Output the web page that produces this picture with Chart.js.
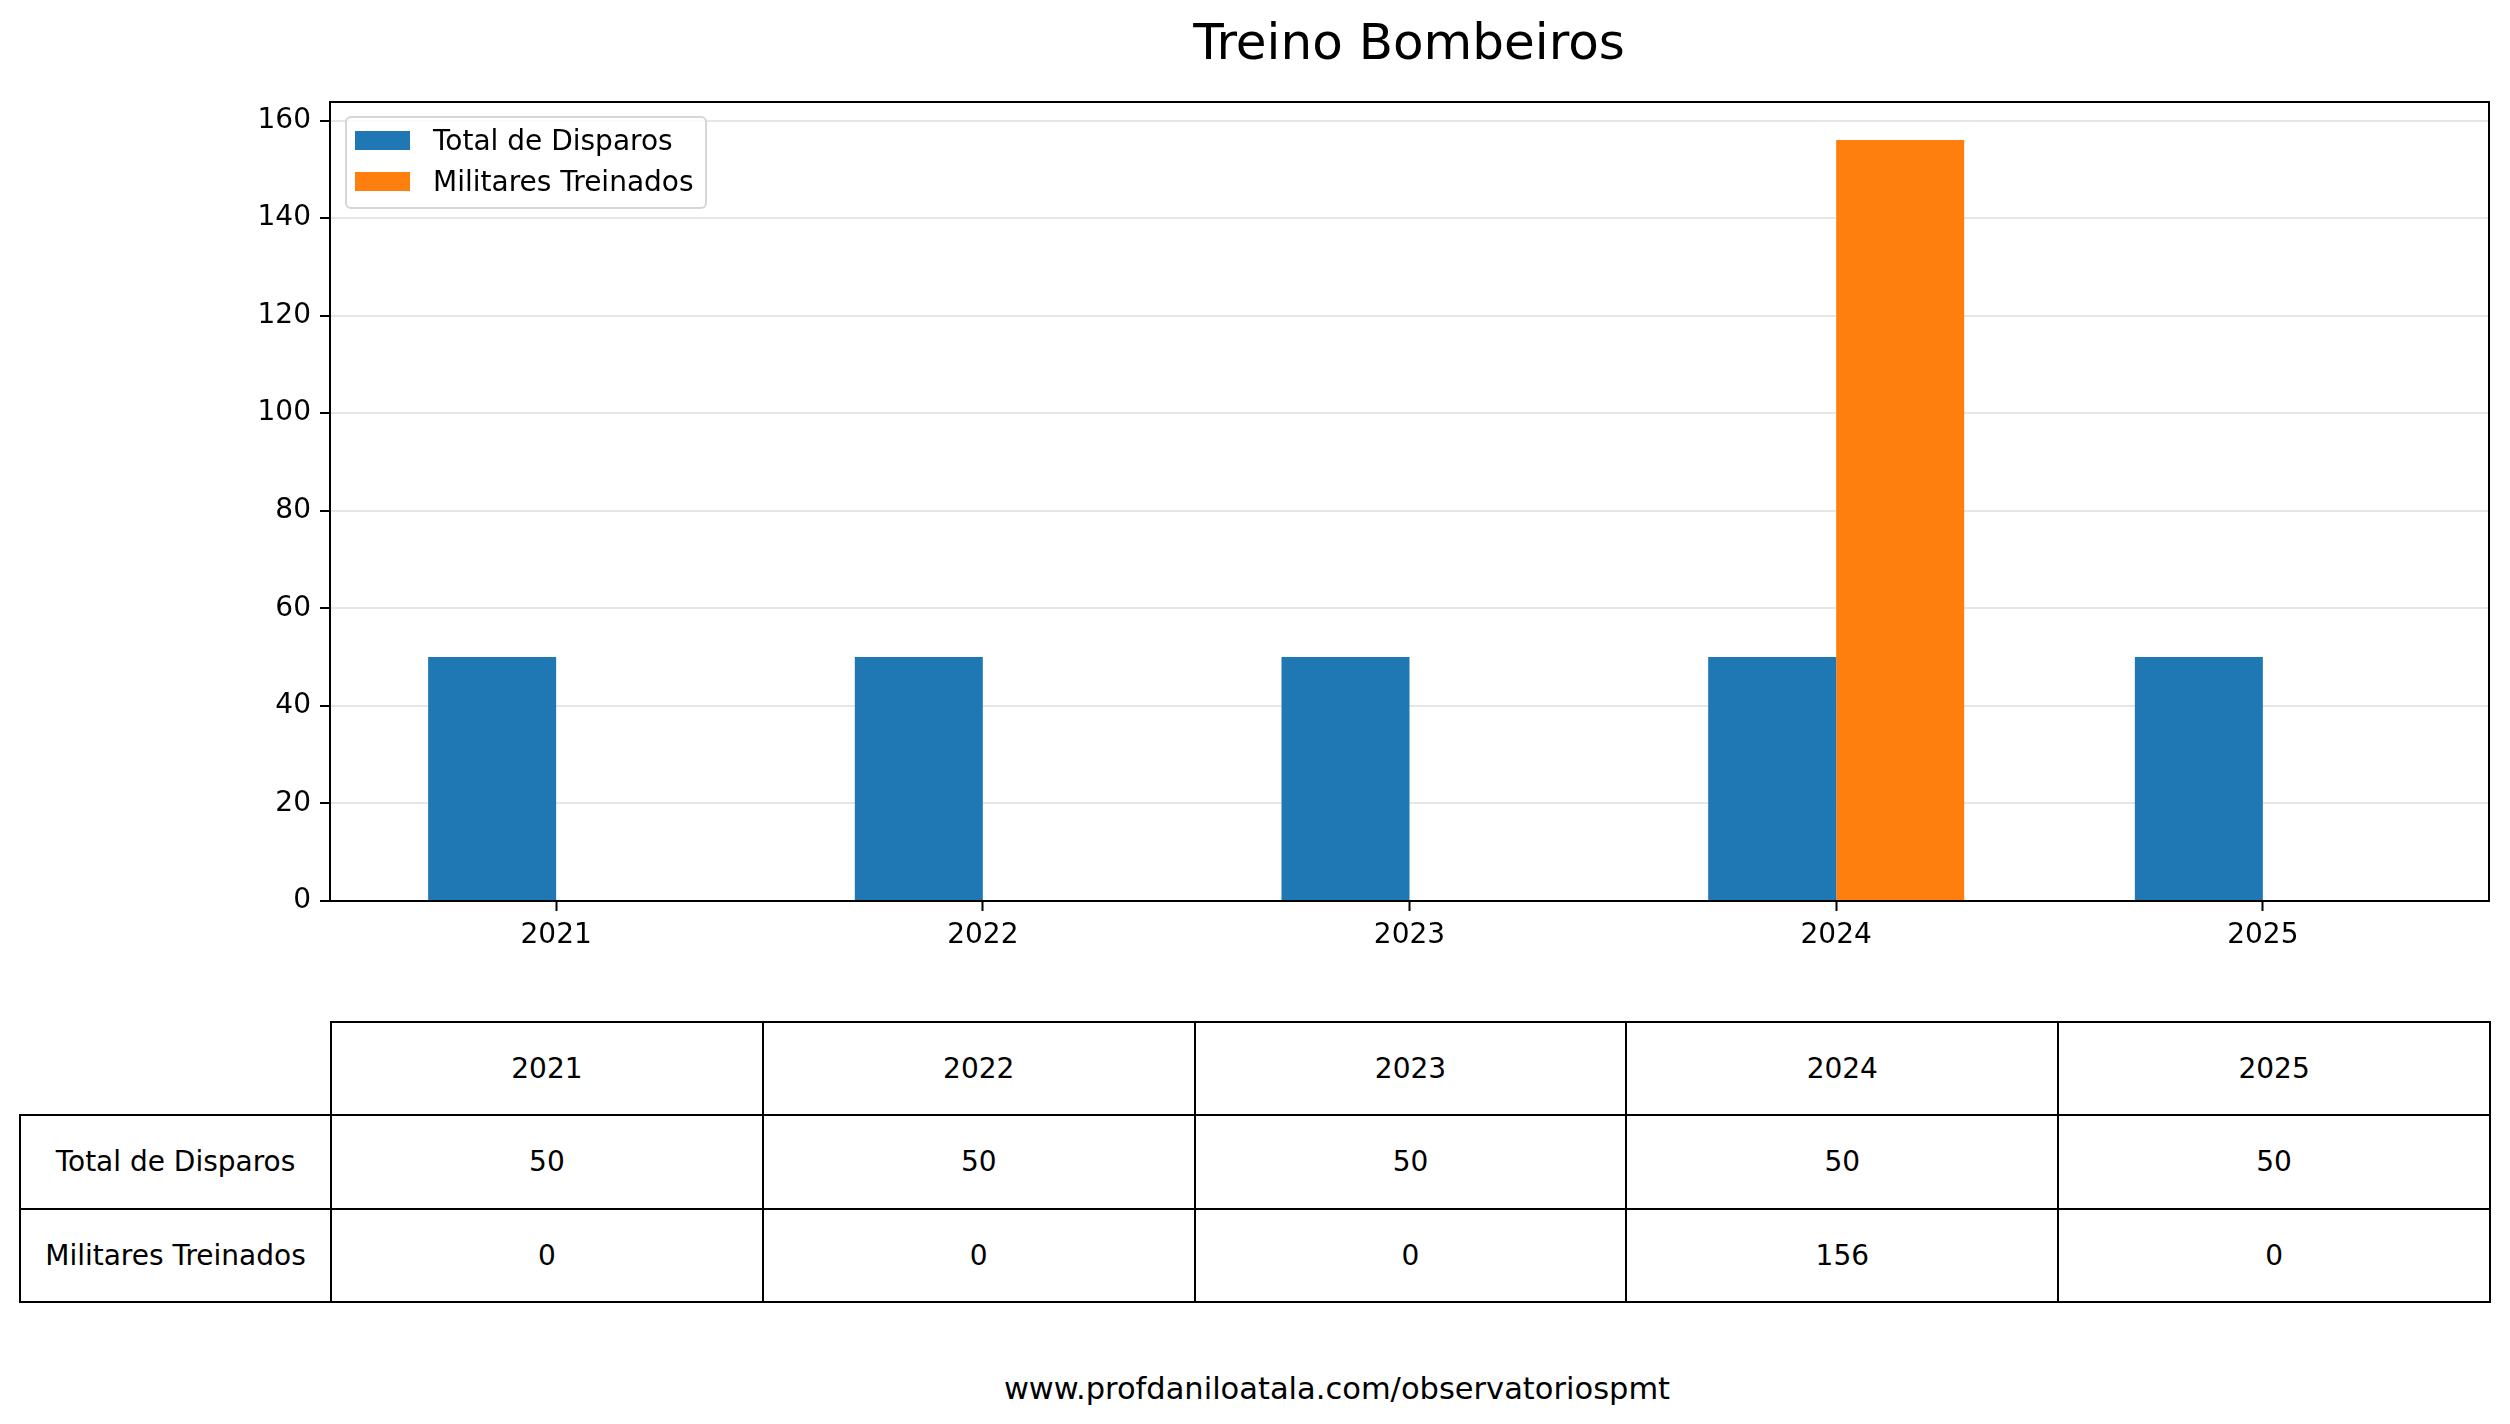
<!DOCTYPE html>
<html lang="pt">
<head>
    <meta charset="UTF-8">
    <title>Treino Bombeiros</title>
    <script src="https://cdn.jsdelivr.net/npm/chart.js"></script>
</head>
<style>
    body{
        margin: 0;
        width: 2510px;
        height: 1424px;
        overflow: hidden;
        background: #fff;
        font-family: "DejaVu Sans", sans-serif;
        color: #000;
    }
    .title{
        position: absolute;
        left: 1409px;
        top: 42px;
        transform: translate(-50%, -50%);
        font-size: 50px;
        white-space: nowrap;
    }
    .chartBox{
        position: absolute;
        left: 0;
        top: 0;
        width: 2510px;
        height: 960px;
    }
    .legend{
        position: absolute;
        left: 345px;
        top: 116px;
        padding: 4px 11px 8px 8px;
        border: 2px solid rgba(204,204,204,0.8);
        border-radius: 6px;
        background: rgba(255,255,255,0.8);
        font-size: 28px;
    }
    .legend .item{
        display: flex;
        align-items: center;
        height: 36px;
        margin-bottom: 5px;
    }
    .legend .item:last-child{ margin-bottom: 0; }
    .legend .swatch{
        width: 55px;
        height: 19px;
        margin-right: 23px;
    }
    table{
        position: absolute;
        left: 19px;
        top: 1021px;
        width: 2470px;
        border-collapse: collapse;
        table-layout: fixed;
        font-size: 28px;
    }
    td{
        border: 2px solid #000;
        height: 93.3px;
        padding: 0;
        text-align: center;
        box-sizing: border-box;
    }
    td.blank{
        border-top: none;
        border-left: none;
    }
    .footer{
        position: absolute;
        left: 1337px;
        top: 1388px;
        transform: translate(-50%, -50%);
        font-size: 30.5px;
        white-space: nowrap;
    }
</style>
<body>
<div class="title">Treino Bombeiros</div>
<div class="chartBox">
    <canvas id="bombeiros"></canvas>
</div>
<div class="legend" id="legend"></div>
<table id="dataTable"></table>
<div class="footer">www.profdaniloatala.com/observatoriospmt</div>
<script>
    const anos = ['2021', '2022', '2023', '2024', '2025'];
    const totalDisparos = [50, 50, 50, 50, 50];
    const militaresTreinados = [0, 0, 0, 156, 0];
    const seriesNomes = ['Total de Disparos', 'Militares Treinados'];
    const yTicks = [0, 20, 40, 60, 80, 100, 120, 140, 160];

    const cores = ['#1f77b4', '#ff7f0e'];

    // box around the plot area, like matplotlib spines
    const moldura = {
        id: 'moldura',
        afterDraw(c) {
            const a = c.chartArea;
            const ctx = c.ctx;
            ctx.save();
            ctx.strokeStyle = '#000';
            ctx.lineWidth = 2;
            ctx.strokeRect(a.left, a.top, a.right - a.left, a.bottom - a.top);
            ctx.restore();
        }
    };

    const chart = new Chart(document.getElementById('bombeiros'), {
        type: 'bar',
        data: {
            datasets: [
                {
                    label: seriesNomes[0],
                    data: totalDisparos.map((v, i) => ({x: i, y: v})),
                    backgroundColor: cores[0]
                },
                {
                    label: seriesNomes[1],
                    data: militaresTreinados.map((v, i) => ({x: i, y: v})),
                    backgroundColor: cores[1]
                }
            ]
        },
        options: {
            responsive: true,
            maintainAspectRatio: false,
            animation: false,
            devicePixelRatio: 1,
            categoryPercentage: 0.6,
            barPercentage: 1.0,
            layout: {padding: {left: 0, right: 21, top: 102, bottom: 0}},
            plugins: {
                legend: {display: false},
                title: {display: false},
                tooltip: {enabled: false}
            },
            scales: {
                x: {
                    type: 'linear',
                    offset: false,
                    min: -0.53,
                    max: 4.53,
                    afterBuildTicks: s => { s.ticks = anos.map((_, i) => ({value: i})); },
                    afterFit: s => { s.height = 59; },
                    ticks: {
                        callback: v => anos[v],
                        color: '#000',
                        font: {family: 'DejaVu Sans', size: 28},
                        padding: 8,
                        maxRotation: 0,
                        autoSkip: false
                    },
                    grid: {
                        offset: false,
                        drawOnChartArea: false,
                        tickLength: 10,
                        tickColor: '#000',
                        tickWidth: 2
                    },
                    border: {display: false}
                },
                y: {
                    min: 0,
                    max: 163.8,
                    afterBuildTicks: s => { s.ticks = yTicks.map(v => ({value: v})); },
                    afterFit: s => { s.width = 330; },
                    ticks: {
                        color: '#000',
                        font: {family: 'DejaVu Sans', size: 28},
                        padding: 9
                    },
                    grid: {
                        color: '#e6e6e6',
                        lineWidth: 2,
                        tickLength: 10,
                        tickColor: '#000',
                        tickWidth: 2
                    },
                    border: {display: false}
                }
            }
        },
        plugins: [moldura]
    });

    // legend in the upper left corner of the plot
    const legend = document.getElementById('legend');
    chart.data.datasets.forEach(ds => {
        const item = document.createElement('div');
        item.className = 'item';
        const sw = document.createElement('span');
        sw.className = 'swatch';
        sw.style.background = ds.backgroundColor;
        const txt = document.createElement('span');
        txt.textContent = ds.label;
        item.appendChild(sw);
        item.appendChild(txt);
        legend.appendChild(item);
    });

    // table under the chart
    const table = document.getElementById('dataTable');
    const colgroup = document.createElement('colgroup');
    let col = document.createElement('col');
    col.style.width = '311px';
    colgroup.appendChild(col);
    anos.forEach(() => {
        col = document.createElement('col');
        col.style.width = '431.8px';
        colgroup.appendChild(col);
    });
    table.appendChild(colgroup);
    const linhas = [['', ...anos], [seriesNomes[0], ...totalDisparos], [seriesNomes[1], ...militaresTreinados]];
    linhas.forEach((linha, r) => {
        const tr = document.createElement('tr');
        linha.forEach((v, c) => {
            const td = document.createElement('td');
            td.textContent = v;
            if (r === 0 && c === 0) td.className = 'blank';
            tr.appendChild(td);
        });
        table.appendChild(tr);
    });
</script>
</body>
</html>
